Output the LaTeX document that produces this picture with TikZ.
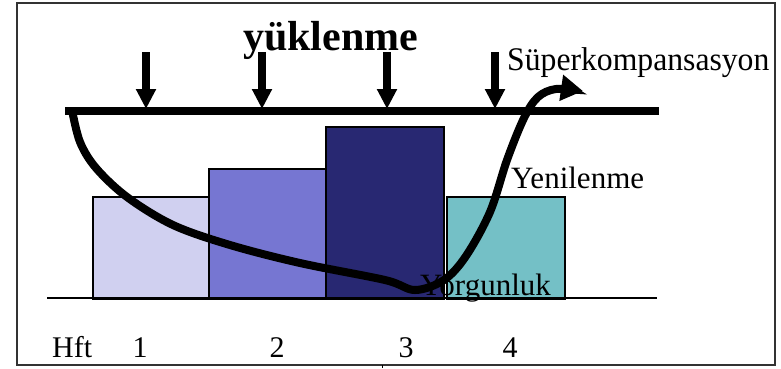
\documentclass[tikz,border=0pt]{standalone}
\usepackage{fontspec}
\setmainfont{Liberation Serif}
\usetikzlibrary{arrows.meta}
\definecolor{barA}{HTML}{D0D0F0}
\definecolor{barB}{HTML}{7676D2}
\definecolor{barC}{HTML}{282872}
\definecolor{barD}{HTML}{74C0C6}
\begin{document}
\begin{tikzpicture}[x=1pt,y=-1pt,
  bar/.style={draw=black,line width=1.5pt},
  lbl/.style={anchor=base west,inner sep=0pt,font=\fontsize{31}{31}\selectfont},
  loadarrow/.style={line width=8pt,-{Triangle[length=20pt,width=19pt]}},
  curvearrow/.style={line width=8pt,-{Triangle[length=22pt,width=25pt]}}]
\useasboundingbox (0,0) rectangle (781,368);
\fill[white] (0,0) rectangle (781,368);
\draw[line width=1.5pt,black!80] (17,3) rectangle (775,365);
\draw[line width=1pt] (382,365) -- (382,368);
% bars
\node[bar,fill=barA,minimum width=116pt,minimum height=102pt,inner sep=0pt,anchor=north west] (b1) at (92,196) {};
\node[bar,fill=barB,minimum width=117pt,minimum height=130pt,inner sep=0pt,anchor=north west] (b2) at (208,168) {};
\node[bar,fill=barC,minimum width=118pt,minimum height=172pt,inner sep=0pt,anchor=north west] (b3) at (325,126) {};
\node[bar,fill=barD,minimum width=118pt,minimum height=102pt,inner sep=0pt,anchor=north west] (b4) at (446,196) {};
% baseline
\coordinate (bl) at (47,298);
\coordinate (br) at (657,298);
\draw[line width=2pt] (bl) -- (br);
% top line
\coordinate (tl) at (65,110.5);
\coordinate (tr) at (659,110.5);
\draw[line width=8pt] (tl) -- (tr);
% load arrows
\foreach \xx/\nm in {146/a1,262/a2,387/a3,495/a4}{
  \coordinate (\nm s) at (\xx,52);
  \coordinate (\nm e) at (\xx,109);
  \draw[loadarrow] (\nm s) -- (\nm e);
}
% curve
\draw[curvearrow,line cap=butt] plot[smooth,tension=0.55] coordinates {
 (72,110) (80,142) (96,168) (127,197) (173,225) (230,245) (300,263)
 (385,280) (415,290) (444,280) (466,256) (490,212) (507,160) (524,118) (538,97) (556,89) (583,91)};
% texts
\node[lbl,font=\fontsize{42}{42}\selectfont\bfseries] (t1) at (243,50) {yüklenme};
\node[lbl,font=\fontsize{33}{33}\selectfont] (t2) at (507,70) {\scalebox{0.96}[1]{Süperkompansasyon}};
\node[lbl] (t3) at (511,188) {Yenilenme};
\node[lbl] (t4) at (420,295) {Yorgunluk};
\node[lbl,font=\fontsize{30}{30}\selectfont] (h0) at (52,357) {Hft};
\node[lbl,font=\fontsize{30}{30}\selectfont,anchor=base] (h1) at (140,357) {1};
\node[lbl,font=\fontsize{30}{30}\selectfont,anchor=base] (h2) at (277,357) {2};
\node[lbl,font=\fontsize{30}{30}\selectfont,anchor=base] (h3) at (406,357) {3};
\node[lbl,font=\fontsize{30}{30}\selectfont,anchor=base] (h4) at (510,357) {4};
\end{tikzpicture}
\end{document}
